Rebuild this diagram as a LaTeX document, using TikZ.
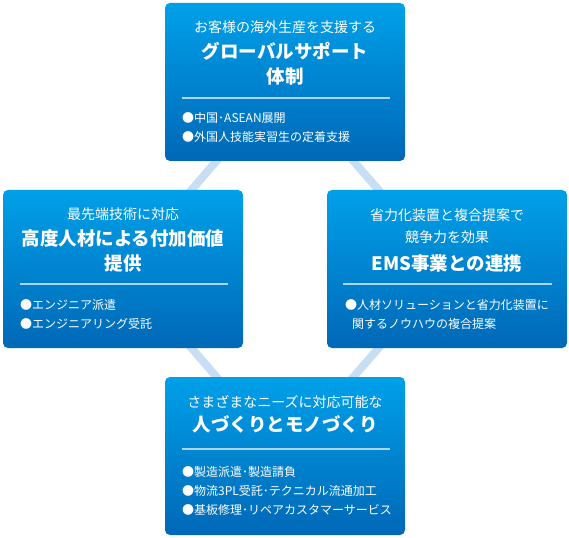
\documentclass[tikz,border=0pt]{standalone}
\usepackage{fontspec}
\setmainfont{Noto Sans CJK JP}
\usetikzlibrary{positioning,backgrounds}
\definecolor{paneltop}{RGB}{0,160,233}
\definecolor{panelbottom}{RGB}{0,104,183}
\definecolor{linkblue}{RGB}{200,223,243}
\definecolor{rulecolor}{RGB}{170,214,244}

\begin{document}
\begin{tikzpicture}[x=1pt, y=-1pt,
    panel/.style={rectangle, rounded corners=5pt, minimum width=240pt, minimum height=158pt, top color=paneltop, bottom color=panelbottom, inner sep=0pt},
    lead/.style={text=white, font=\fontsize{14}{16}\selectfont, inner sep=0pt},
    headline/.style={text=white, font=\bfseries\fontsize{18.5}{21}\selectfont, inner sep=0pt},
    item/.style={text=white, font=\fontsize{12}{14}\selectfont, anchor=west, inner sep=0pt},
    divider/.style={rulecolor, line width=1.2pt},
    link/.style={linkblue, line width=8pt}
]
\useasboundingbox (0,0) rectangle (569,537);

% Top panel
\node[panel] (global) at (285,82) {};
\node[lead] (global-lead) at (285,27) {お客様の海外生産を支援する};
\node[headline] (global-head) at (285,51) {グローバルサポート};
\node[headline] (global-head2) at (285,77) {体制};
\draw[divider] (182,98) -- (390,98);
\node[item] (global-a) at (182,118) {●中国･ASEAN展開};
\node[item] (global-b) at (182,137) {●外国人技能実習生の定着支援};

% Left panel
\node[panel] (talent) at (123,269) {};
\node[lead] (talent-lead) at (123,214) {最先端技術に対応};
\node[headline] (talent-head) at (123,238) {高度人材による付加価値};
\node[headline] (talent-head2) at (123,263) {提供};
\draw[divider] (20,284) -- (228,284);
\node[item] (talent-a) at (20,305) {●エンジニア派遣};
\node[item] (talent-b) at (20,324) {●エンジニアリング受託};

% Right panel
\node[panel] (ems) at (447,269) {};
\node[lead] (ems-lead) at (447,215) {省力化装置と複合提案で};
\node[lead] (ems-lead2) at (447,237) {競争力を効果};
\node[headline] (ems-head) at (447,263) {EMS事業との連携};
\draw[divider] (343,284) -- (552,284);
\node[item] (ems-a) at (345,305) {●人材ソリューションと省力化装置に};
\node[item] (ems-b) at (352,324) {関するノウハウの複合提案};

% Bottom panel
\node[panel] (making) at (285,456) {};
\node[lead] (making-lead) at (285,402) {さまざまなニーズに対応可能な};
\node[headline] (making-head) at (285,424) {人づくりとモノづくり};
\draw[divider] (182,449) -- (390,449);
\node[item] (making-a) at (182,472) {●製造派遣･製造請負};
\node[item] (making-b) at (182,491) {●物流3PL受託･テクニカル流通加工};
\node[item] (making-c) at (182,510) {●基板修理･リペアカスタマーサービス};

% Links behind the panels
\begin{scope}[on background layer]
\draw[link] (global.center) -- (talent.center) -- (making.center) -- (ems.center) -- cycle;
\end{scope}

\end{tikzpicture}
\end{document}
